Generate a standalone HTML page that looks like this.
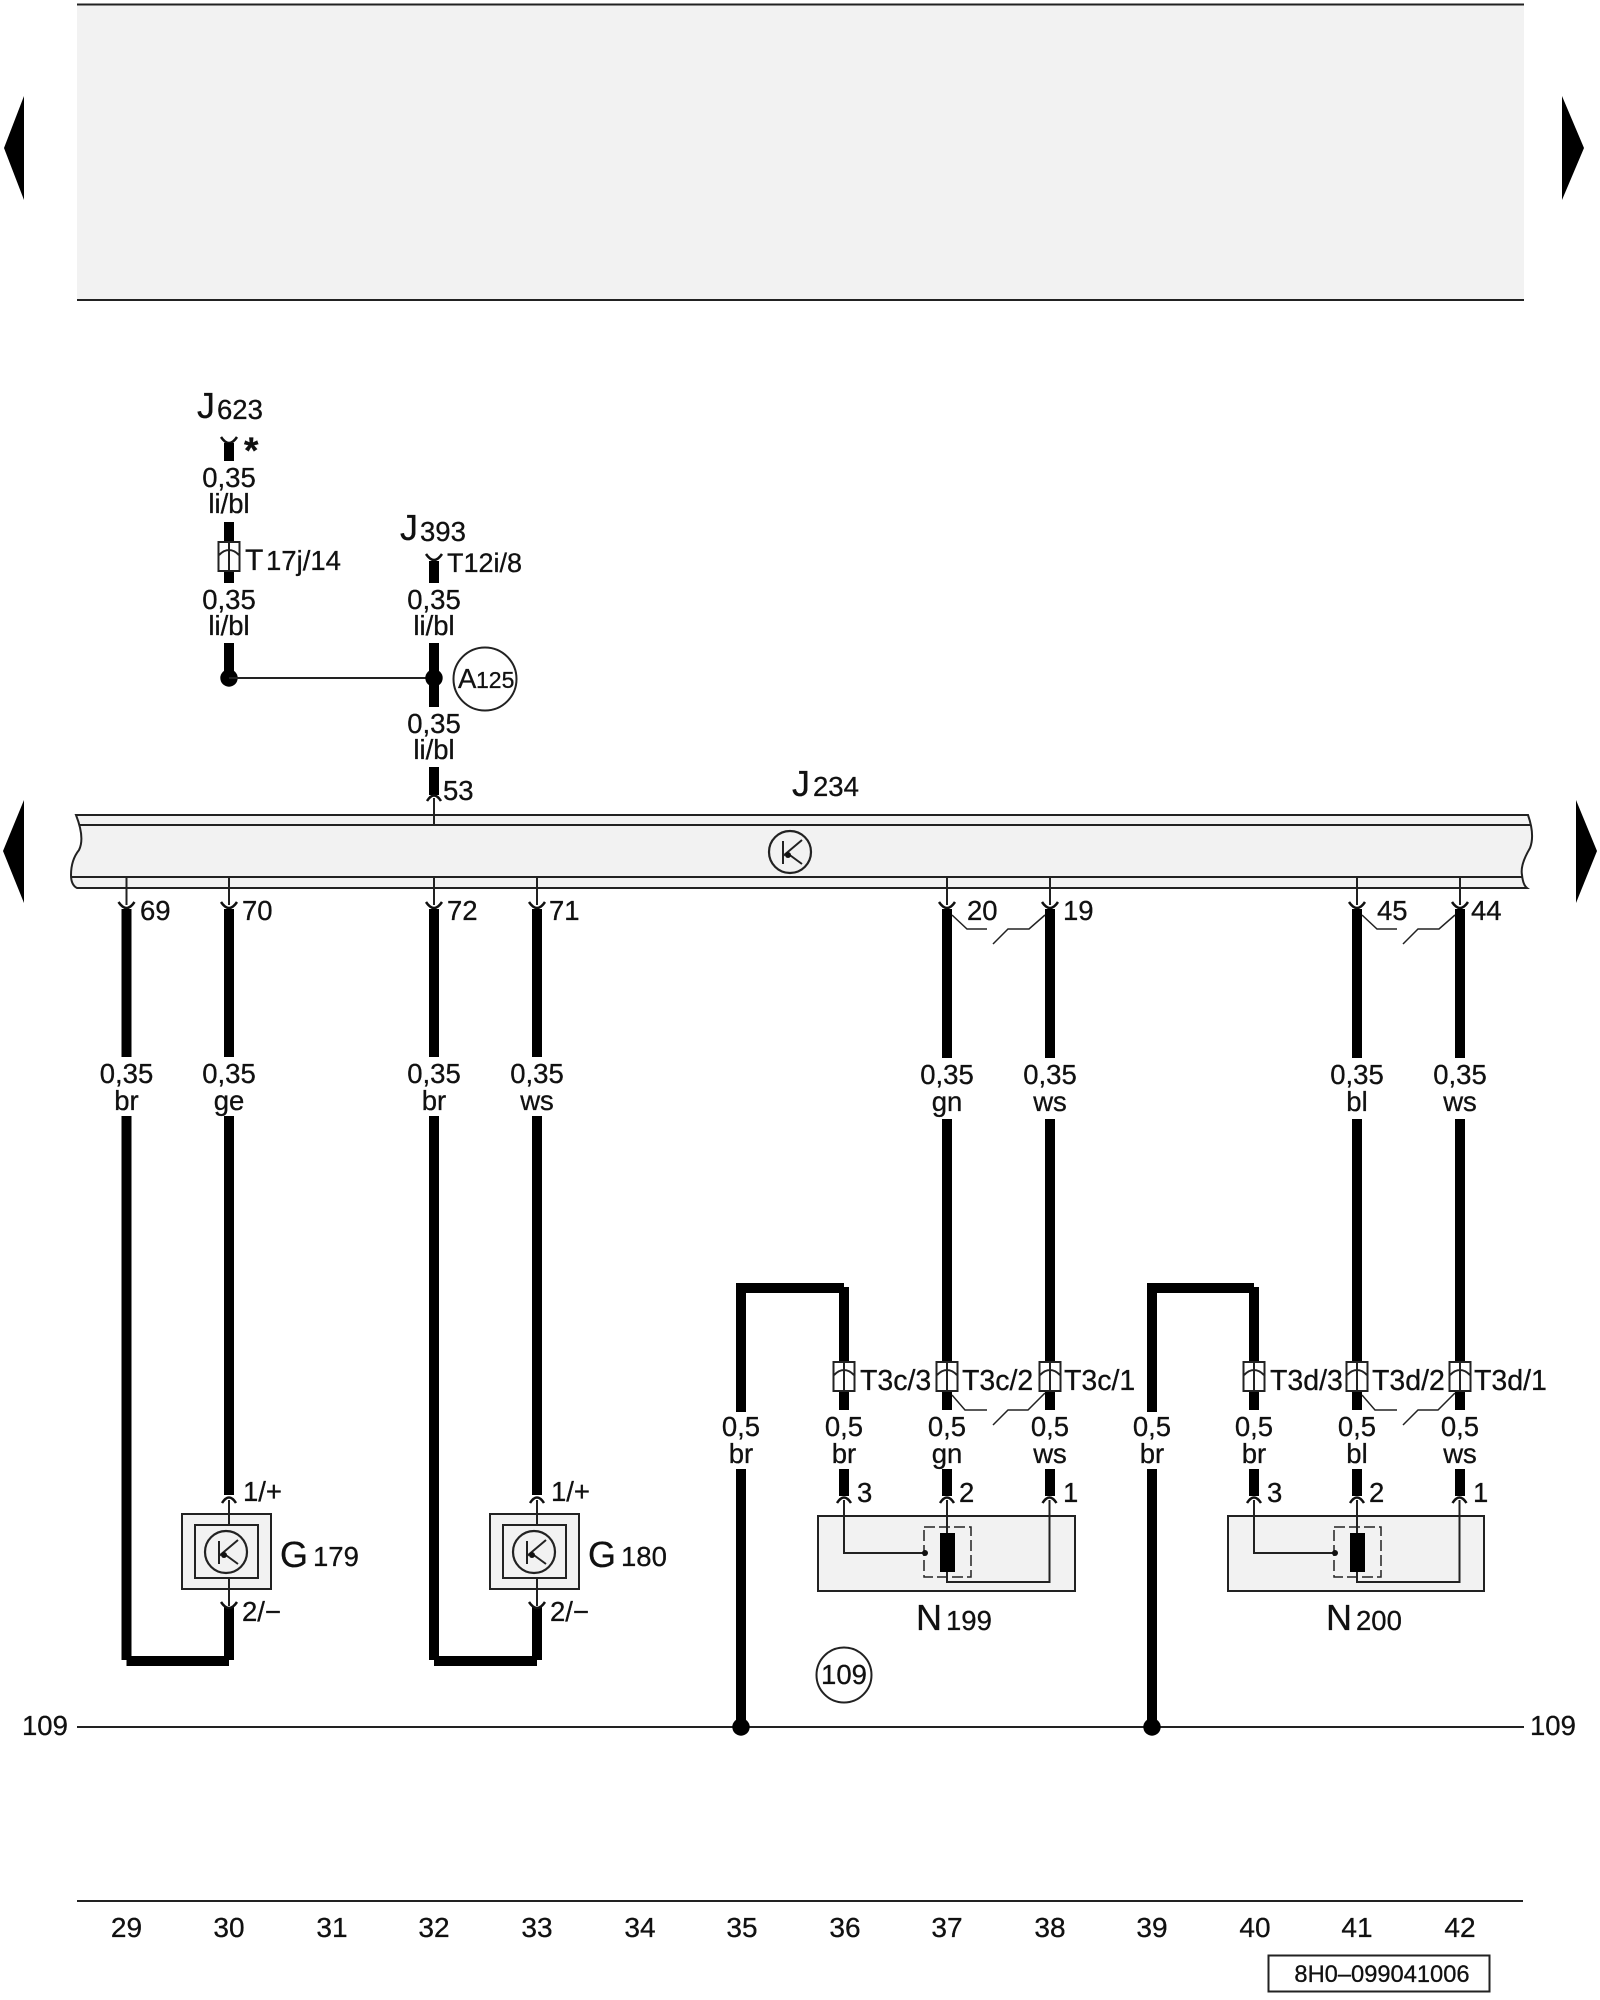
<!DOCTYPE html>
<html><head><meta charset="utf-8"><title>Wiring diagram 8H0-099041006</title>
<style>
html,body{margin:0;padding:0;background:#fff}
svg{display:block}
text{font-family:"Liberation Sans",sans-serif;fill:#111;font-size:27.5px;stroke:#111;stroke-width:.3px}
.c{text-anchor:middle}
.big{font-size:36px}
.t{font-size:28.500px}
.n{font-size:28px}
.w{stroke:#000;stroke-width:10;fill:none;stroke-linecap:butt}
.l{stroke:#222;stroke-width:2;fill:none}
.a{stroke:#111;stroke-width:2.500;fill:none}
.f{fill:#f2f2f2;stroke:#222;stroke-width:2}
</style></head><body>
<svg width="1600" height="2000" viewBox="0 0 1600 2000" xmlns="http://www.w3.org/2000/svg">
<defs>
<g id="up"><path class="a" d="M-7,4 Q0,-7 7,4"/></g>
<g id="down"><path class="a" d="M-8,-4 Q0,8 8,-4"/></g>
<g id="box"><rect x="-10.5" y="0" width="21" height="29" fill="#fff" stroke="#222" stroke-width="2"/><path class="l" d="M0,0V29M-10,13Q0,3 10,13"/></g>
<g id="k"><circle r="21" fill="none" stroke="#222" stroke-width="2.2"/><path d="M-7,-11V12M-7,4L12,-12M-3,1L12,12" fill="none" stroke="#222" stroke-width="2"/><circle cx="-2" cy="3" r="3" fill="#111"/></g>
</defs>

<!-- top band -->
<rect x="77" y="4" width="1447" height="296" fill="#f2f2f2"/>
<path class="l" d="M77,4.500H1524M77,300H1524"/>

<!-- side arrows -->
<polygon points="4,148 24,96 24,200" fill="#000"/>
<polygon points="1584,148 1562,96 1562,200" fill="#000"/>
<polygon points="3,851 24,800 24,903" fill="#000"/>
<polygon points="1597,851 1576,800 1576,903" fill="#000"/>

<!-- J234 bar -->
<path d="M76,815H1528Q1535,835 1530,848Q1520,865 1522,875Q1523,885 1527,888H77Q71,885 71,875Q71,860 79,850Q85,838 76,815Z" fill="#f2f2f2"/>
<path class="l" d="M76,815H1528Q1535,835 1530,848Q1520,865 1522,875Q1523,885 1527,888H77Q71,885 71,875Q71,860 79,850Q85,838 76,815Z"/>
<path class="l" d="M80,825H1531M71,877H1522"/>
<use href="#k" x="790" y="852"/>
<text class="big" x="792" y="796">J</text><text x="813" y="796">234</text>

<!-- J623 / J393 -->
<text class="big" x="197" y="418">J</text><text x="217" y="419">623</text>
<use href="#down" x="229" y="441"/>
<path class="w" d="M229,443V461M229,522V583M229,643V678"/>
<text x="244" y="463" style="font-size:37px;font-weight:bold">*</text>
<text class="c" x="229" y="487">0,35</text><text class="c" x="229" y="513">li/bl</text>
<use href="#box" x="229" y="542"/>
<text x="245" y="570" style="font-size:30px">T</text><text x="266" y="570">17j/14</text>
<text class="c" x="229" y="609">0,35</text><text class="c" x="229" y="635">li/bl</text>
<circle cx="229" cy="678" r="8.7" fill="#000"/>
<path class="l" d="M229,678H434"/>

<text class="big" x="400" y="540">J</text><text x="420" y="541">393</text>
<use href="#down" x="434" y="558"/>
<path class="w" d="M434,561V583M434,643V707M434,767V795"/>
<text x="447" y="572" style="font-size:27px">T12i/8</text>
<text class="c" x="434" y="609">0,35</text><text class="c" x="434" y="635">li/bl</text>
<circle cx="434" cy="678" r="8.7" fill="#000"/>
<circle cx="485" cy="679" r="31.5" fill="none" stroke="#222" stroke-width="2"/>
<text x="458" y="688">A</text><text x="476" y="688" style="font-size:23px">125</text>
<text class="c" x="434" y="733">0,35</text><text class="c" x="434" y="759">li/bl</text>
<use href="#up" x="434" y="797"/>
<path class="l" d="M434,798V826"/>
<text x="443" y="800">53</text>

<!-- pins below bar -->
<path class="l" d="M126.500,877V905M229,877V905M434,877V905M537,877V905M947,877V905M1050,877V905M1357,877V905M1460,877V905"/>
<use href="#down" x="126.500" y="906"/><use href="#down" x="229" y="906"/><use href="#down" x="434" y="906"/><use href="#down" x="537" y="906"/>
<use href="#down" x="947" y="906"/><use href="#down" x="1050" y="906"/><use href="#down" x="1357" y="906"/><use href="#down" x="1460" y="906"/>
<text x="140" y="920">69</text><text x="242" y="920">70</text><text x="447" y="920">72</text><text x="549" y="920">71</text>
<text x="967" y="920">20</text><text x="1063" y="920">19</text><text x="1377" y="920">45</text><text x="1471" y="920">44</text>

<!-- wires, left groups -->
<path class="w" d="M126.500,909V1057M126.500,1116V1660M126.500,1661H229M229,1660V1607M229,909V1057M229,1116V1495"/>
<path class="w" d="M434,909V1057M434,1116V1660M434,1661H537M537,1660V1607M537,909V1057M537,1116V1495"/>
<text class="c" x="126.500" y="1083">0,35</text><text class="c" x="126.500" y="1110">br</text>
<text class="c" x="229" y="1083">0,35</text><text class="c" x="229" y="1110">ge</text>
<text class="c" x="434" y="1083">0,35</text><text class="c" x="434" y="1110">br</text>
<text class="c" x="537" y="1083">0,35</text><text class="c" x="537" y="1110">ws</text>

<!-- G179 -->
<g>
<rect class="f" x="182" y="1514" width="89" height="75"/>
<rect class="f" x="195" y="1525" width="63" height="53"/>
<use href="#k" x="226" y="1552"/>
<path class="l" d="M229,1500V1525M229,1578V1606"/>
<use href="#up" x="229" y="1499"/><use href="#down" x="229" y="1606"/>
<text x="243" y="1501">1/+</text><text x="242" y="1621">2/−</text>
</g>
<text class="big" x="280" y="1567">G</text><text x="313" y="1566">179</text>
<!-- G180 -->
<g transform="translate(308)">
<rect class="f" x="182" y="1514" width="89" height="75"/>
<rect class="f" x="195" y="1525" width="63" height="53"/>
<use href="#k" x="226" y="1552"/>
<path class="l" d="M229,1500V1525M229,1578V1606"/>
<use href="#up" x="229" y="1499"/><use href="#down" x="229" y="1606"/>
<text x="243" y="1501">1/+</text><text x="242" y="1621">2/−</text>
<text class="big" x="280" y="1567">G</text><text x="313" y="1566">180</text>
</g>

<!-- N199 group -->
<g>
<path class="w" d="M741,1727V1410M741,1469V1283M736,1288H844M844,1287V1410M844,1469V1496M947,909V1058M947,1119V1410M947,1469V1496M1050,909V1058M1050,1119V1410M1050,1469V1496"/>
<rect x="730" y="1412" width="24" height="57" fill="#fff"/>
<text class="c" x="947" y="1084">0,35</text><text class="c" x="947" y="1111">gn</text>
<text class="c" x="1050" y="1084">0,35</text><text class="c" x="1050" y="1111">ws</text>
<use href="#box" x="844" y="1362"/><use href="#box" x="947" y="1362"/><use href="#box" x="1050" y="1362"/>
<text class="t" x="860" y="1390">T3c/3</text><text class="t" x="962" y="1390">T3c/2</text><text class="t" x="1064" y="1390">T3c/1</text>
<text class="c" x="741" y="1436">0,5</text><text class="c" x="741" y="1463">br</text>
<text class="c" x="844" y="1436">0,5</text><text class="c" x="844" y="1463">br</text>
<text class="c" x="947" y="1436">0,5</text><text class="c" x="947" y="1463">gn</text>
<text class="c" x="1050" y="1436">0,5</text><text class="c" x="1050" y="1463">ws</text>
<path class="l" style="stroke-width:1.500" d="M952,1395L965,1410H987M993,1425L1008,1410H1028L1045,1393M952,915L967,929H987M993,944L1008,929H1029L1045,915"/>
<rect class="f" x="818" y="1516" width="257" height="75"/>
<rect x="924" y="1527" width="47" height="50" fill="none" stroke="#222" stroke-width="1.500" stroke-dasharray="11 4"/>
<rect x="940" y="1533" width="15" height="39" fill="#000"/>
<path class="l" d="M844,1500V1553H925M947,1500V1533M1049.500,1500V1582H947V1572"/>
<circle cx="925" cy="1553" r="3" fill="#111"/>
<use href="#up" x="844" y="1499"/><use href="#up" x="947" y="1499"/><use href="#up" x="1049.500" y="1499"/>
<text x="857" y="1502">3</text><text x="959" y="1502">2</text><text x="1063" y="1502">1</text>
<text class="big" x="916" y="1630">N</text><text x="946" y="1630">199</text>
</g>

<!-- N200 group -->
<g transform="translate(411)">
<path class="w" d="M741,1727V1410M741,1469V1283M736,1288H843M843,1287V1410M843,1469V1496M946,909V1058M946,1119V1410M946,1469V1496M1049,909V1058M1049,1119V1410M1049,1469V1496"/>
<rect x="730" y="1412" width="24" height="57" fill="#fff"/>
<text class="c" x="946" y="1084">0,35</text><text class="c" x="946" y="1111">bl</text>
<text class="c" x="1049" y="1084">0,35</text><text class="c" x="1049" y="1111">ws</text>
<use href="#box" x="843" y="1362"/><use href="#box" x="946" y="1362"/><use href="#box" x="1049" y="1362"/>
<text class="t" x="859" y="1390">T3d/3</text><text class="t" x="961" y="1390">T3d/2</text><text class="t" x="1063" y="1390">T3d/1</text>
<text class="c" x="741" y="1436">0,5</text><text class="c" x="741" y="1463">br</text>
<text class="c" x="843" y="1436">0,5</text><text class="c" x="843" y="1463">br</text>
<text class="c" x="946" y="1436">0,5</text><text class="c" x="946" y="1463">bl</text>
<text class="c" x="1049" y="1436">0,5</text><text class="c" x="1049" y="1463">ws</text>
<path class="l" style="stroke-width:1.500" d="M951,1395L964,1410H986M992,1425L1007,1410H1027L1044,1393M951,915L966,929H986M992,944L1007,929H1028L1044,915"/>
<rect class="f" x="817" y="1516" width="256" height="75"/>
<rect x="923" y="1527" width="47" height="50" fill="none" stroke="#222" stroke-width="1.500" stroke-dasharray="11 4"/>
<rect x="939" y="1533" width="15" height="39" fill="#000"/>
<path class="l" d="M843,1500V1553H924M946,1500V1533M1048.500,1500V1582H946V1572"/>
<circle cx="924" cy="1553" r="3" fill="#111"/>
<use href="#up" x="843" y="1499"/><use href="#up" x="946" y="1499"/><use href="#up" x="1048.500" y="1499"/>
<text x="856" y="1502">3</text><text x="958" y="1502">2</text><text x="1062" y="1502">1</text>
<text class="big" x="915" y="1630">N</text><text x="945" y="1630">200</text>
</g>

<!-- bus 109 -->
<path class="l" d="M77,1727H1524"/>
<circle cx="741" cy="1727" r="8.7" fill="#000"/><circle cx="1152" cy="1727" r="8.7" fill="#000"/>
<text x="22" y="1735">109</text><text x="1530" y="1735">109</text>
<circle cx="844" cy="1675" r="27.5" fill="none" stroke="#222" stroke-width="2"/>
<text class="c" x="844" y="1684">109</text>

<!-- footer -->
<path class="l" d="M77,1901H1523"/>
<text class="c n" x="126.500" y="1937">29</text><text class="c n" x="229" y="1937">30</text><text class="c n" x="332" y="1937">31</text><text class="c n" x="434" y="1937">32</text><text class="c n" x="537" y="1937">33</text><text class="c n" x="640" y="1937">34</text><text class="c n" x="742" y="1937">35</text><text class="c n" x="845" y="1937">36</text><text class="c n" x="947" y="1937">37</text><text class="c n" x="1050" y="1937">38</text><text class="c n" x="1152" y="1937">39</text><text class="c n" x="1255" y="1937">40</text><text class="c n" x="1357" y="1937">41</text><text class="c n" x="1460" y="1937">42</text>
<rect x="1268.500" y="1955.500" width="221" height="36" fill="#fff" stroke="#222" stroke-width="2"/>
<text class="c" x="1382" y="1982" style="font-size:23.700px">8H0–099041006</text>
</svg>
</body></html>
